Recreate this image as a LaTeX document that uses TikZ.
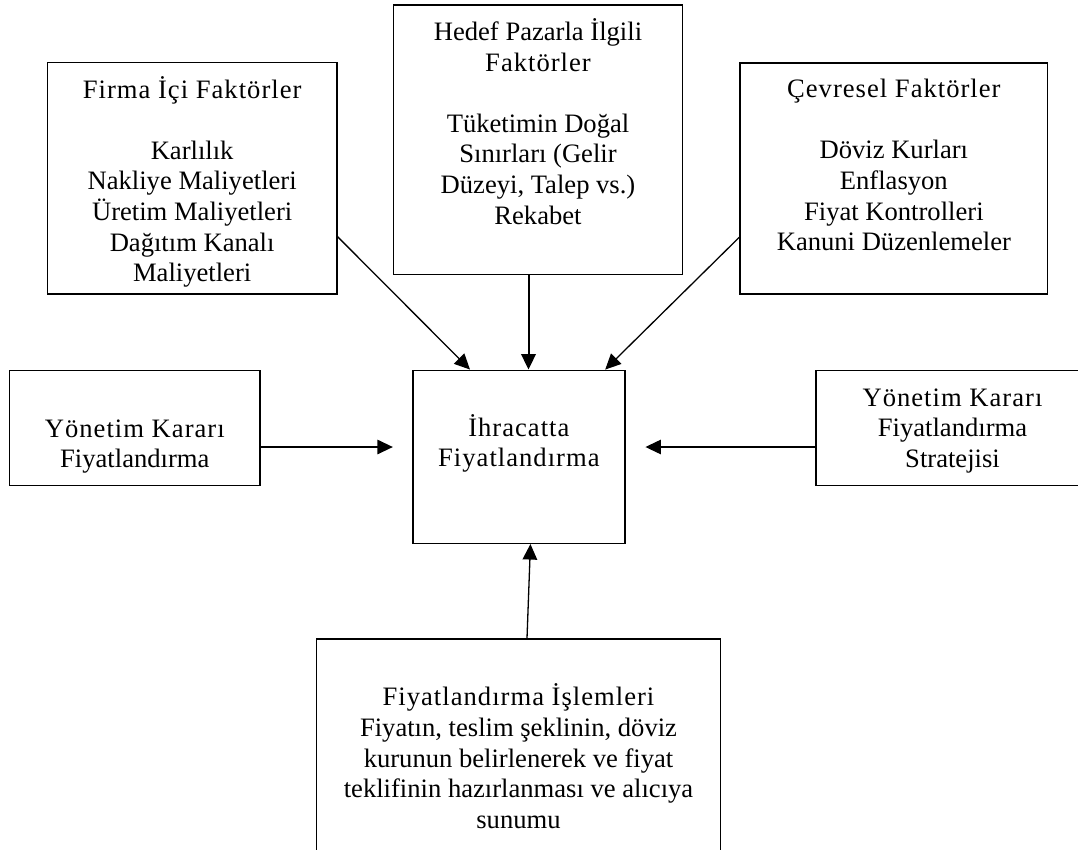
\documentclass[tikz,border=0pt]{standalone}
\usepackage{fontspec}
\setmainfont{Liberation Serif}
\newfontfamily\spacedfont[LetterSpace=3.8]{Liberation Serif}
\newcommand{\spc}[1]{{\spacedfont #1}}
\usetikzlibrary{arrows.meta}
\tikzset{
  box/.style={draw=black, line width=1.5pt, rectangle, inner sep=0pt},
  txt/.style={align=center, inner sep=0pt, anchor=base, font=\fontsize{26.6}{30.6}\selectfont},
  arr/.style={draw=black, line width=1.3pt, -{Triangle[length=15.5pt,width=14.5pt]}},
  thickarr/.style={arr, line width=2pt}
}
\begin{document}
\begin{tikzpicture}[x=1pt,y=-1pt]
\useasboundingbox (0,0) rectangle (1078,849);
\clip (0,0) rectangle (1078,849);
\fill[white] (0,0) rectangle (1078,849);
% boxes
\node[box, minimum width=289.3pt, minimum height=231.7pt] (firma) at (192.15,178.15) {};
\node[box, minimum width=288.6pt, minimum height=269.3pt] (hedef) at (538,139.65) {};
\node[box, minimum width=307.7pt, minimum height=231pt] (cev) at (893.85,178.5) {};
\node[box, minimum width=250.4pt, minimum height=115.4pt] (ly) at (134.8,428) {};
\node[box, minimum width=211.9pt, minimum height=173pt] (ctr) at (518.85,456.8) {};
\node[box, minimum width=273pt, minimum height=115.4pt] (ry) at (952.5,428) {};
\node[box, minimum width=403.6pt, minimum height=261pt] (bot) at (518.5,769.5) {};
% texts (anchor = baseline of the last line)
\node[txt] (firmaT) at (192.15,281.7) {\spc{Firma İçi Faktörler}\\[30.6pt]Karlılık\\Nakliye Maliyetleri\\Üretim Maliyetleri\\Dağıtım Kanalı\\Maliyetleri};
\node[txt] (hedefT) at (538,224) {Hedef Pazarla İlgili\\\spc{Faktörler}\\[30.6pt]Tüketimin Doğal\\Sınırları (Gelir\\Düzeyi, Talep vs.)\\Rekabet};
\node[txt] (cevT) at (893.85,250.7) {\spc{Çevresel Faktörler}\\[30.6pt]Döviz Kurları\\Enflasyon\\Fiyat Kontrolleri\\Kanuni Düzenlemeler};
\node[txt] (lyT) at (134.8,467.7) {\spc{Yönetim Kararı}\\Fiyatlandırma};
\node[txt] (ctrT) at (518.85,466.7) {\spc{İhracatta}\\\spc{Fiyatlandırma}};
\node[txt] (ryT) at (952.5,467.3) {\spc{Yönetim Kararı}\\Fiyatlandırma\\Stratejisi};
\node[txt] (botT) at (518.5,828.3) {\spc{Fiyatlandırma İşlemleri}\\Fiyatın, teslim şeklinin, döviz\\kurunun belirlenerek ve fiyat\\teklifinin hazırlanması ve alıcıya\\sunumu};
% connectors
\draw[arr] ([yshift=-58.5pt]firma.east) -- ([xshift=-48.85pt]ctr.north);
\draw[thickarr] ([xshift=-9.5pt]hedef.south) -- ([xshift=9.65pt]ctr.north);
\draw[arr] ([yshift=-58.8pt]cev.west) -- ([xshift=86.35pt]ctr.north);
\draw[arr] ([yshift=-19pt]ly.east) -- ([xshift=-19.3pt,yshift=9.8pt]ctr.west);
\draw[arr] ([yshift=-19pt]ry.west) -- ([xshift=19.9pt,yshift=9.8pt]ctr.east);
\draw[arr] ([xshift=8.5pt]bot.north) -- ([xshift=11.6pt]ctr.south);
\end{tikzpicture}
\end{document}
